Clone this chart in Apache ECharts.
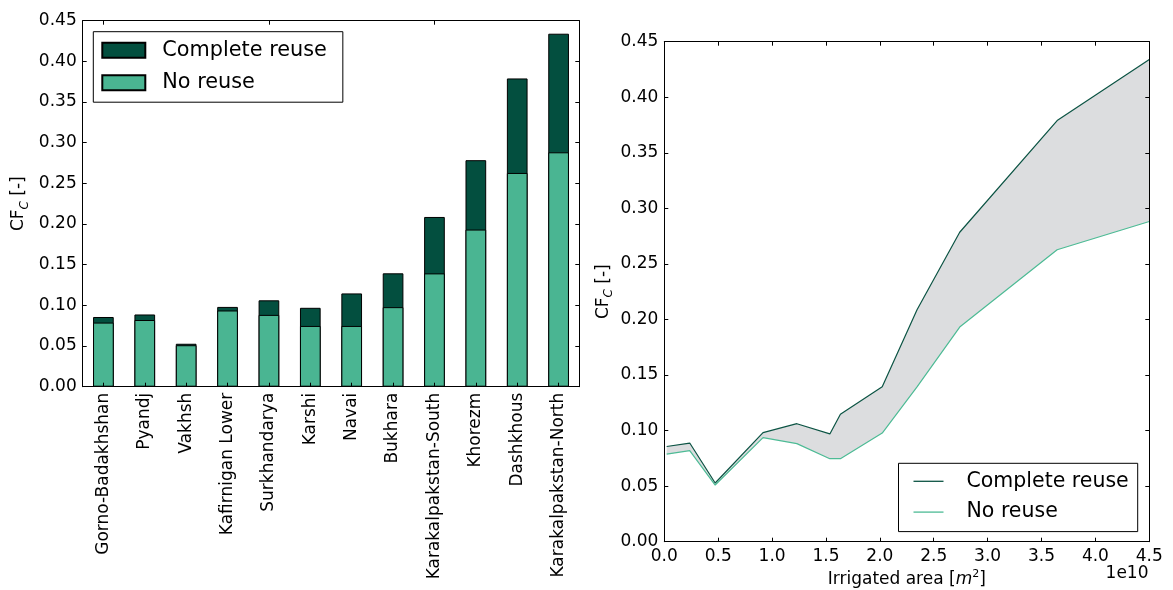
<!DOCTYPE html>
<html>
<head>
<meta charset="utf-8">
<script src="https://cdn.jsdelivr.net/npm/echarts@6/dist/echarts.min.js"></script>
<style>
  html, body { margin: 0; padding: 0; background: #fff; }
  #bars { position: absolute; left: 0; top: 0; width: 590px; height: 590px; }
  #lines { position: absolute; left: 590px; top: 0; width: 583px; height: 590px; }
</style>
</head>
<body>
<div id="bars"></div>
<div id="lines"></div>
<script>
// Planning zones, ordered by irrigated area
const regions = [
  'Gorno-Badakhshan', 'Pyandj', 'Vakhsh', 'Kafirnigan Lower', 'Surkhandarya',
  'Karshi', 'Navai', 'Bukhara', 'Karakalpakstan-South', 'Khorezm',
  'Dashkhous', 'Karakalpakstan-North'
];
// Characterisation factor with complete return-flow reuse
const completeReuse = [0.0857, 0.0888, 0.0528, 0.0981, 0.1062, 0.0970, 0.1147, 0.1394, 0.2087, 0.2785, 0.3790, 0.4340];
// Characterisation factor without reuse
const noReuse = [0.0788, 0.0820, 0.0510, 0.0937, 0.0883, 0.0747, 0.0747, 0.0978, 0.1393, 0.1932, 0.2628, 0.2882];
// Irrigated area per zone [m^2]
const irrigatedArea = [0.022e10, 0.236e10, 0.472e10, 0.916e10, 1.230e10, 1.536e10, 1.634e10, 2.022e10, 2.345e10, 2.741e10, 3.645e10, 4.5e10];

// Axis ranges
const cfMin = 0, cfMax = 0.45, cfStep = 0.05;
const areaMin = 0, areaMax = 4.5e10, areaStep = 0.5e10;
const areaOffset = 1e10;

const FONT = "'DejaVu Sans', 'Liberation Sans', sans-serif";
const DARK = '#034f3f';
const LIGHT = '#4ab592';
const DARK_LINE = '#0c5444';
const LIGHT_LINE = '#4dbb95';
const FILL = '#dcdddf';

const lineOf = { show: true, onZero: false, lineStyle: { color: '#000', width: 1 } };
const tickIn = { show: true, inside: true, length: 4, lineStyle: { color: '#000', width: 1 } };
const tickLabel = { color: '#000', fontSize: 17, fontFamily: FONT };

const cfName = 'CF{s|C} [-]';
const cfNameStyle = {
  color: '#000', fontSize: 17, fontFamily: FONT, lineHeight: 24,
  rich: {
    s: { fontSize: 12, fontStyle: 'italic', fontFamily: FONT, color: '#000', verticalAlign: 'bottom', lineHeight: 24 }
  }
};

function cfAxis(extra) {
  return Object.assign({
    type: 'value', min: cfMin, max: cfMax, interval: cfStep,
    axisLine: lineOf, axisTick: tickIn, splitLine: { show: false }, z: 5,
    axisLabel: Object.assign({ margin: 6, formatter: v => v.toFixed(2) }, tickLabel)
  }, extra);
}

// ---- Left: bars per zone ----
const bars = echarts.init(document.getElementById('bars'), null, { renderer: 'canvas' });
bars.setOption({
  animation: false,
  grid: { left: 82.7, top: 20.7, width: 496.6, height: 366, outerBoundsMode: 'none', containLabel: false },
  legend: {
    orient: 'vertical', left: 93.3, top: 31.7, icon: 'rect',
    itemWidth: 43, itemHeight: 15, itemGap: 11.5,
    padding: [8, 16, 9, 8],
    borderColor: '#000', borderWidth: 1, borderRadius: 0,
    textStyle: { color: '#000', fontSize: 20.8, fontFamily: FONT, padding: [0, 0, 0, 12] },
    data: ['Complete reuse', 'No reuse']
  },
  xAxis: [
    {
      type: 'category', data: regions, position: 'bottom',
      axisLine: lineOf, axisTick: Object.assign({ alignWithLabel: true }, tickIn), z: 5,
      axisLabel: Object.assign({ rotate: 90, interval: 0, margin: 6 }, tickLabel)
    },
    {
      type: 'category', data: regions, position: 'top',
      axisLine: lineOf, axisTick: Object.assign({ alignWithLabel: true }, tickIn), z: 5,
      axisLabel: { show: false }
    }
  ],
  yAxis: [
    cfAxis({ position: 'left', name: cfName, nameLocation: 'middle', nameGap: 52, nameMoveOverlap: false, nameRotate: 90, nameTextStyle: cfNameStyle }),
    cfAxis({ position: 'right', axisLabel: { show: false } })
  ],
  series: [
    {
      name: 'Complete reuse', type: 'bar', data: completeReuse, barWidth: '50%',
      itemStyle: { color: DARK, borderColor: '#000', borderWidth: 1 }
    },
    {
      name: 'No reuse', type: 'bar', data: noReuse, barWidth: '50%', barGap: '-100%',
      itemStyle: { color: LIGHT, borderColor: '#000', borderWidth: 1 }
    }
  ]
});

// ---- Right: factor against irrigated area ----
const lines = echarts.init(document.getElementById('lines'), null, { renderer: 'canvas' });
const upper = irrigatedArea.map((a, i) => [a, completeReuse[i]]);
const lower = irrigatedArea.map((a, i) => [a, noReuse[i]]);

function areaAxis(extra) {
  return Object.assign({
    type: 'value', min: areaMin, max: areaMax, interval: areaStep,
    axisLine: lineOf, axisTick: tickIn, splitLine: { show: false }, z: 5,
    axisLabel: Object.assign({ margin: 6, formatter: v => (v / areaOffset).toFixed(1) }, tickLabel)
  }, extra);
}

lines.setOption({
  animation: false,
  grid: { left: 74.3, top: 41.7, width: 485, height: 500, outerBoundsMode: 'none', containLabel: false },
  legend: {
    orient: 'vertical', left: 308.5, top: 463.3, icon: 'rect',
    itemWidth: 30, itemHeight: 1.3, itemGap: 9.8,
    padding: [7.5, 9, 9, 15],
    borderColor: '#000', borderWidth: 1, borderRadius: 0,
    textStyle: { color: '#000', fontSize: 20.5, fontFamily: FONT, padding: [0, 0, 0, 18] },
    data: ['Complete reuse', 'No reuse']
  },
  xAxis: [
    areaAxis({
      position: 'bottom',
      name: 'Irrigated area [{m|m}{p|2}]', nameLocation: 'middle', nameGap: 27, nameMoveOverlap: false,
      nameTextStyle: {
        color: '#000', fontSize: 17, fontFamily: FONT, lineHeight: 22,
        rich: {
          m: { fontSize: 17, fontStyle: 'italic', fontFamily: FONT, color: '#000', lineHeight: 22 },
          p: { fontSize: 11, fontFamily: FONT, color: '#000', verticalAlign: 'top', lineHeight: 22 }
        }
      }
    }),
    areaAxis({ position: 'top', axisLabel: { show: false } })
  ],
  yAxis: [
    cfAxis({ position: 'left', name: cfName, nameLocation: 'middle', nameGap: 49, nameMoveOverlap: false, nameRotate: 90, nameTextStyle: cfNameStyle }),
    cfAxis({ position: 'right', axisLabel: { show: false } })
  ],
  graphic: [{
    type: 'text', x: 558.5, y: 574,
    style: { text: '1e' + Math.log10(areaOffset), align: 'right', verticalAlign: 'middle', fontSize: 17, fontFamily: FONT, fill: '#000' }
  }],
  series: [
    {
      // shaded band between the two cases
      type: 'custom', silent: true, z: 1, clip: true,
      data: irrigatedArea.map((a, i) => [a, completeReuse[i], noReuse[i]]),
      renderItem: function (params, api) {
        if (params.dataIndex !== 0) return null;
        const pts = upper.map(p => api.coord(p)).concat(lower.slice().reverse().map(p => api.coord(p)));
        return { type: 'polygon', shape: { points: pts }, style: { fill: FILL, stroke: null } };
      }
    },
    {
      name: 'Complete reuse', type: 'line', data: upper, symbol: 'none', z: 3,
      lineStyle: { color: DARK_LINE, width: 1.2 }, itemStyle: { color: DARK_LINE }
    },
    {
      name: 'No reuse', type: 'line', data: lower, symbol: 'none', z: 3,
      lineStyle: { color: LIGHT_LINE, width: 1.2 }, itemStyle: { color: LIGHT_LINE }
    }
  ]
});
</script>
</body>
</html>
